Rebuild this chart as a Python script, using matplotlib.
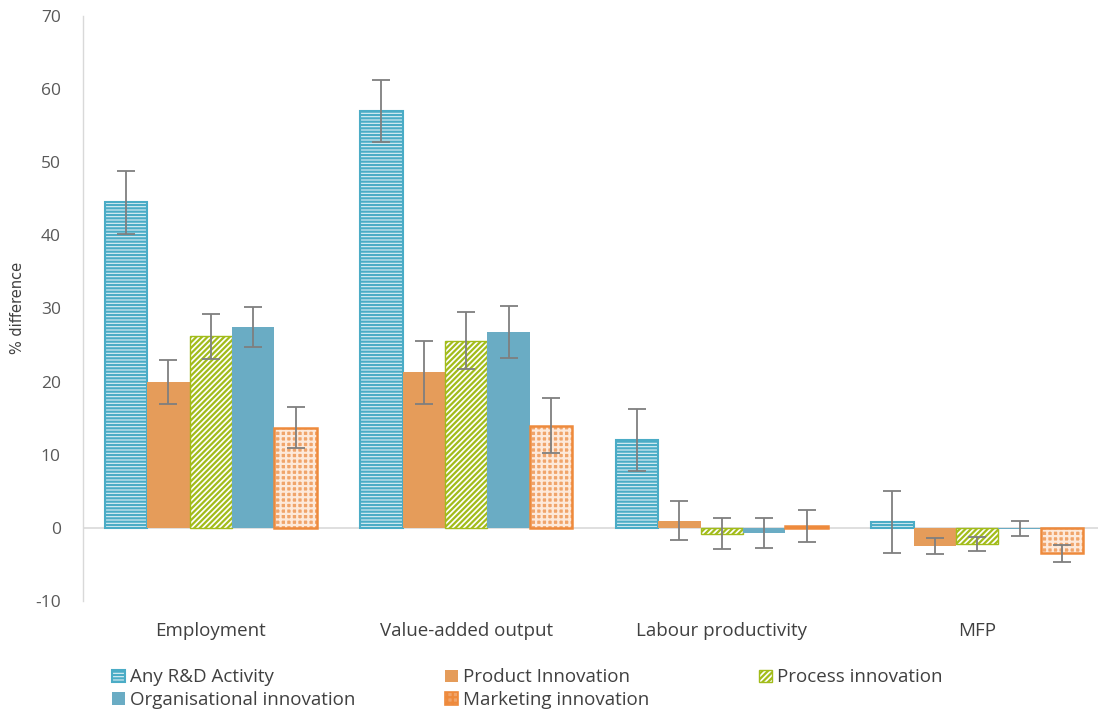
import matplotlib
matplotlib.use("Agg")
import matplotlib.pyplot as plt
import numpy as np

# % difference by outcome and innovation type, with error bar half-widths
categories = ["Employment", "Value-added output", "Labour productivity", "MFP"]
series_names = ["Any R&D Activity", "Product Innovation", "Process innovation",
                "Organisational innovation", "Marketing innovation"]

rd_activity = [44.5, 57.0, 12.0, 0.8]
product_innov = [19.9, 21.3, 1.0, -2.5]
process_innov = [26.2, 25.6, -0.8, -2.2]
organisational_innov = [27.5, 26.8, -0.7, -0.1]
marketing_innov = [13.7, 14.0, 0.3, -3.5]

rd_err = [4.3, 4.2, 4.2, 4.2]
product_err = [3.0, 4.3, 2.7, 1.1]
process_err = [3.1, 3.9, 2.1, 0.95]
organisational_err = [2.7, 3.6, 2.1, 1.0]
marketing_err = [2.8, 3.8, 2.2, 1.1]

plt.rcParams["font.family"] = ["Open Sans", "DejaVu Sans"]
plt.rcParams["hatch.linewidth"] = 1.6
plt.rcParams["axes.unicode_minus"] = False

BLUE = "#4bacc6"
ORANGE = "#e59c5a"
GREEN = "#a2bc1a"
TEAL = "#6aacc4"
MKT = "#ee8a3c"
GREY_TXT = "#595959"

fig = plt.figure(figsize=(10.98, 7.12), dpi=100)
ax = fig.add_axes([83 / 1098, 1 - 601 / 712, 1022 / 1098, 585 / 712])

x = np.arange(len(categories))
w = 0.166
offsets = (np.arange(5) - 2) * w

values = [rd_activity, product_innov, process_innov, organisational_innov, marketing_innov]
errors = [rd_err, product_err, process_err, organisational_err, marketing_err]

handles = []
# Any R&D: pale fill with dense horizontal blue stripes
h = ax.bar(x + offsets[0], rd_activity, w, facecolor="#dff0f5", edgecolor=BLUE,
           hatch="-----", linewidth=1.5, zorder=2)
handles.append(h)
h = ax.bar(x + offsets[1], product_innov, w, color=ORANGE, linewidth=0, zorder=2)
handles.append(h)
h = ax.bar(x + offsets[2], process_innov, w, facecolor="white", edgecolor=GREEN,
           hatch="//////", linewidth=1.0, zorder=2)
handles.append(h)
h = ax.bar(x + offsets[3], organisational_innov, w, color=TEAL, linewidth=0, zorder=2)
handles.append(h)
# Marketing: orange with a white grid and an orange outline
ax.bar(x + offsets[4], marketing_innov, w, facecolor="#f0a46a", edgecolor="#fde9da",
       hatch="+++", linewidth=0, zorder=2)
ax.bar(x + offsets[4], marketing_innov, w, fill=False, edgecolor=MKT,
       linewidth=1.8, zorder=2.1)
handles.append(ax.bar([0], [0], 0, facecolor="#f0a46a", edgecolor=MKT, hatch="+++",
                      linewidth=1.2))

for i in range(5):
    ax.errorbar(x + offsets[i], values[i], yerr=errors[i], fmt="none",
                ecolor="#7f7f7f", elinewidth=1.3, capsize=6.7, capthick=1.3, zorder=3)

ax.axhline(0, color="#d9d9d9", linewidth=1.2, zorder=1)

ax.set_xlim(-0.5, 3.5)
ax.set_ylim(-10, 70)
ax.set_yticks(range(-10, 71, 10))
ax.tick_params(axis="y", length=0, pad=16, labelsize=12.5, labelcolor=GREY_TXT)
ax.set_xticks(x)
ax.set_xticklabels(categories)
ax.tick_params(axis="x", length=0, pad=15, labelsize=13.5, labelcolor="#404040")

for side in ["top", "right", "bottom"]:
    ax.spines[side].set_visible(False)
ax.spines["left"].set_color("#d9d9d9")
ax.spines["left"].set_linewidth(1.0)

fig.text(18 / 1098, 1 - 308 / 712, "% difference", rotation=90, ha="center", va="center",
         family=["Liberation Sans Narrow", "DejaVu Sans"], fontsize=10.5, color="#404040")

legend_kw = dict(frameon=False, fontsize=13.5, handlelength=0.65, handleheight=0.65,
                 handletextpad=0.3, labelspacing=0.25, borderpad=0, labelcolor="#404040")
fig.legend([handles[0], handles[3]], [series_names[0], series_names[3]],
           loc="upper left", bbox_to_anchor=(103 / 1098, 1 - 659 / 712), **legend_kw)
fig.legend([handles[1], handles[4]], [series_names[1], series_names[4]],
           loc="upper left", bbox_to_anchor=(436 / 1098, 1 - 659 / 712), **legend_kw)
fig.legend([handles[2]], [series_names[2]],
           loc="upper left", bbox_to_anchor=(750 / 1098, 1 - 659 / 712), **legend_kw)

fig.savefig("out.png", dpi=100)
